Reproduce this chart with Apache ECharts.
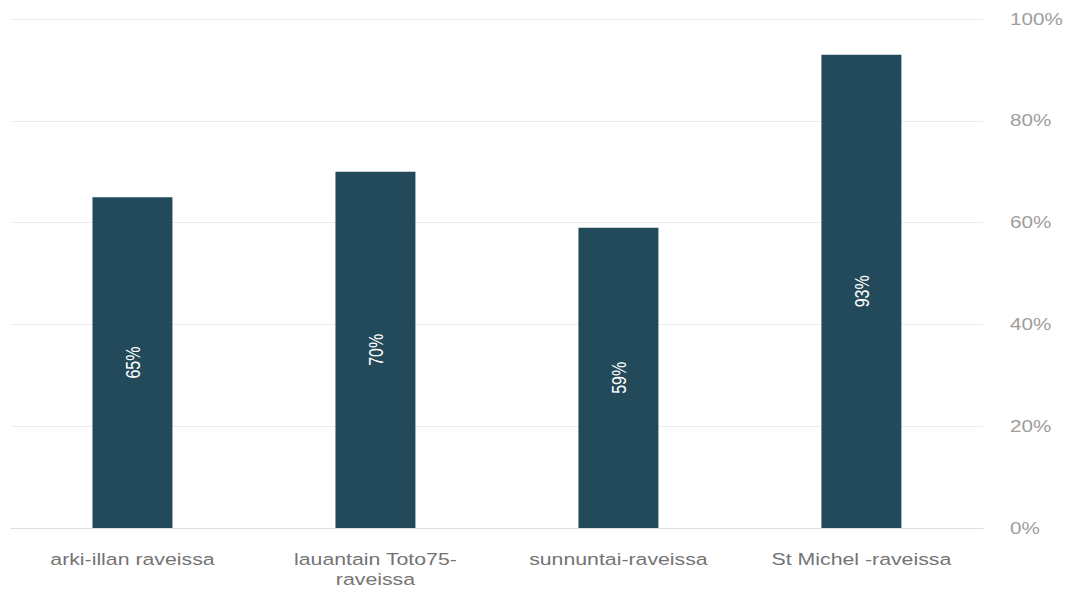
<!DOCTYPE html>
<html>
<head>
<meta charset="utf-8">
<script src="https://cdn.jsdelivr.net/npm/echarts@6/dist/echarts.min.js"></script>
<style>
  html, body { margin: 0; padding: 0; background: #fff; overflow: hidden; }
  #wrap { width: 1068px; height: 589px; overflow: hidden; }
  /* the chart is laid out narrower and widened, which gives the broad lettering */
  #chart { width: 828px; height: 589px; transform: scaleX(1.2899); transform-origin: 0 0; }
</style>
</head>
<body>
<div id="wrap"><div id="chart"></div></div>
<script>
const categories = ['arki-illan raveissa', 'lauantain Toto75-\nraveissa', 'sunnuntai-raveissa', 'St Michel -raveissa'];
const shares = [65, 70, 59, 93];
const yTicks = [0, 20, 40, 60, 80, 100];

const FONT = 'Liberation Sans, Arial, Helvetica, sans-serif';
const chart = echarts.init(document.getElementById('chart'), null, { renderer: 'svg' });
chart.setOption({
  animation: false,
  backgroundColor: '#ffffff',
  grid: { left: 8.5, right: 66, top: 19, bottom: 52, containLabel: false },
  xAxis: {
    type: 'category',
    data: categories,
    axisTick: { show: false },
    axisLine: { show: true, lineStyle: { color: '#d9dde6', width: 1 } },
    axisLabel: {
      color: '#747474',
      fontFamily: FONT,
      fontSize: 16.5,
      margin: 21,
      lineHeight: 20,
      interval: 0
    }
  },
  yAxis: {
    type: 'value',
    position: 'right',
    min: yTicks[0],
    max: yTicks[yTicks.length - 1],
    interval: 20,
    axisLine: { show: false },
    axisTick: { show: false },
    splitLine: { lineStyle: { color: '#ececec', width: 1 } },
    axisLabel: {
      color: '#9d9d9d',
      fontFamily: FONT,
      fontSize: 16,
      margin: 21,
      formatter: v => v + '%'
    }
  },
  series: [{
    type: 'bar',
    data: shares,
    barWidth: 62,
    itemStyle: { color: '#234a5a' },
    label: {
      show: true,
      position: 'inside',
      rotate: 90,
      color: '#ffffff',
      fontFamily: FONT,
      fontSize: 16,
      formatter: p => p.value + '%'
    }
  }]
});
</script>
</body>
</html>
